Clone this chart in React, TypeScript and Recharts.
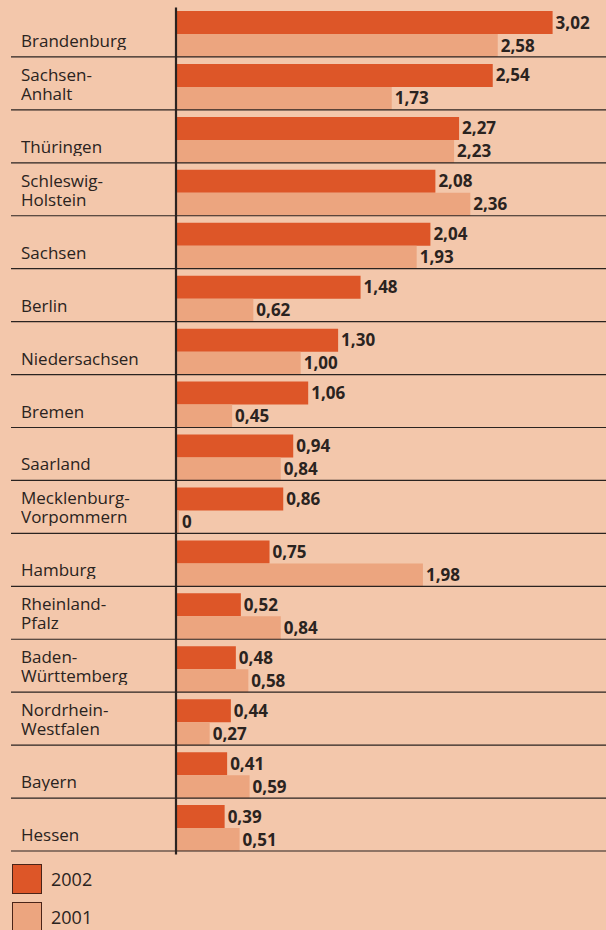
import { Bar, BarChart, LabelList, XAxis, YAxis } from "recharts"

const states = [
  "Brandenburg",
  "Sachsen-Anhalt",
  "Thüringen",
  "Schleswig-Holstein",
  "Sachsen",
  "Berlin",
  "Niedersachsen",
  "Bremen",
  "Saarland",
  "Mecklenburg-Vorpommern",
  "Hamburg",
  "Rheinland-Pfalz",
  "Baden-Württemberg",
  "Nordrhein-Westfalen",
  "Bayern",
  "Hessen",
]

const values2002 = [3.02, 2.54, 2.27, 2.08, 2.04, 1.48, 1.3, 1.06, 0.94, 0.86, 0.75, 0.52, 0.48, 0.44, 0.41, 0.39]
const values2001 = [2.58, 1.73, 2.23, 2.36, 1.93, 0.62, 1.0, 0.45, 0.84, 0, 1.98, 0.84, 0.58, 0.27, 0.59, 0.51]

const series = [
  { key: "y2002", label: "2002", color: "#dd5628" },
  { key: "y2001", label: "2001", color: "#eca57f" },
]

const data = states.map((name, i) => ({
  name,
  y2002: values2002[i],
  y2001: values2001[i],
}))

const BG = "#f3c7ab"
const INK = "#2a2320"
const FONT = "'Open Sans', 'Noto Sans', sans-serif"

const fmt = (v: number) => (v === 0 ? "0" : v.toFixed(2).replace(".", ","))

function StateTick(props: any) {
  const { y, payload } = props
  const half = payload?.offset ?? 26.5
  const sep = y + half - 3.5
  const lines = String(payload.value).replace("-", "-\n").split("\n")
  // html block so wrapped names sit as one text, bottom aligned above the rule
  const boxBottom = sep - 7
  return (
    <g>
      <line x1={11} x2={606} y1={sep} y2={sep} stroke={INK} strokeWidth={1.2} />
      <foreignObject x={21} y={boxBottom - 46} width={150} height={46}>
        <div
          style={{
            height: 46,
            display: "flex",
            flexDirection: "column",
            justifyContent: "flex-end",
            fontFamily: FONT,
            fontSize: 17,
            lineHeight: "19px",
            color: INK,
            whiteSpace: "nowrap",
          }}
        >
          <div>
            {lines.map((t, i) => (
              <span key={i}>
                {i > 0 && <br />}
                {t}
              </span>
            ))}
          </div>
        </div>
      </foreignObject>
    </g>
  )
}

export default function App() {
  return (
    <div
      style={{
        position: "absolute",
        left: 0,
        top: 0,
        width: 606,
        height: 930,
        background: BG,
        overflow: "hidden",
      }}
    >
      <BarChart
        width={606}
        height={930}
        data={data}
        layout="vertical"
        margin={{ top: 7.5, right: 6, bottom: 75.5, left: 11 }}
        barCategoryGap={3.5}
        barGap={0}
      >
        <XAxis type="number" domain={[0, 3.4]} hide />
        <YAxis
          type="category"
          dataKey="name"
          width={165}
          axisLine={{ stroke: INK, strokeWidth: 2.2 }}
          tickLine={false}
          tick={(p: any) => <StateTick {...p} />}
          interval={0}
        />
        {series.map((s) => (
          <Bar key={s.key} dataKey={s.key} fill={s.color} isAnimationActive={false} minPointSize={3}>
            <LabelList
              dataKey={s.key}
              position="right"
              offset={3}
              formatter={(v: any) => fmt(Number(v))}
              style={{ fill: INK, fontSize: 17, fontWeight: 700, fontFamily: FONT }}
            />
          </Bar>
        ))}
      </BarChart>
      <div style={{ position: "absolute", left: 12, top: 864, fontFamily: FONT, color: INK }}>
        {series.map((s) => (
          <div key={s.key} style={{ display: "flex", alignItems: "center", height: 38 }}>
            <div
              style={{
                width: 28,
                height: 28,
                background: s.color,
                border: "1px solid #4a2418",
                marginTop: -9,
              }}
            />
            <span style={{ marginLeft: 9, fontSize: 18, marginTop: -9 }}>{s.label}</span>
          </div>
        ))}
      </div>
    </div>
  )
}
